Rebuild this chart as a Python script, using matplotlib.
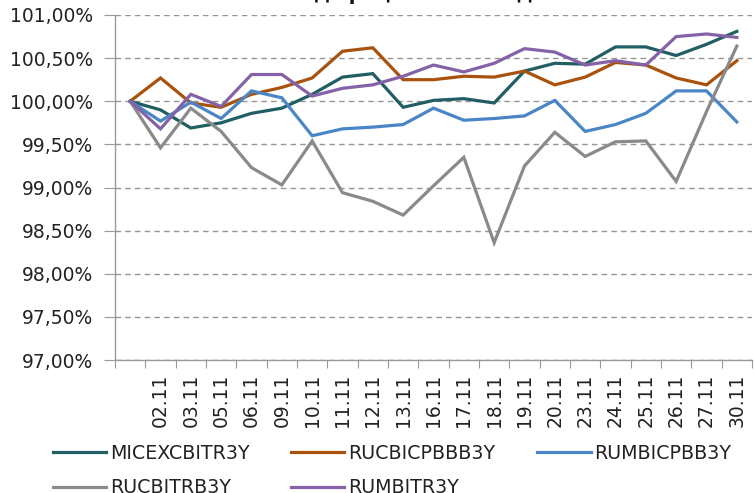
import matplotlib
matplotlib.use("Agg")
import matplotlib.pyplot as plt
from matplotlib.ticker import FuncFormatter, FixedLocator

plt.rcParams['font.family'] = ['DejaVu Sans']

title = "дюрацией 2 - 3 года"
dates = ["", "02.11", "03.11", "05.11", "06.11", "09.11", "10.11", "11.11", "12.11",
         "13.11", "16.11", "17.11", "18.11", "19.11", "20.11", "23.11", "24.11",
         "25.11", "26.11", "27.11", "30.11"]

micex = [100.00, 99.90, 99.69, 99.75, 99.86, 99.92, 100.08, 100.28, 100.32, 99.93, 100.01,
         100.03, 99.98, 100.35, 100.44, 100.43, 100.63, 100.63, 100.53, 100.66, 100.81]
rucbicp = [100.00, 100.27, 99.98, 99.93, 100.08, 100.16, 100.27, 100.58, 100.62, 100.25, 100.25,
           100.29, 100.28, 100.35, 100.19, 100.28, 100.45, 100.42, 100.27, 100.19, 100.47]
rumbicp = [100.00, 99.77, 99.99, 99.80, 100.12, 100.04, 99.60, 99.68, 99.70, 99.73, 99.92,
           99.78, 99.80, 99.83, 100.01, 99.65, 99.73, 99.86, 100.12, 100.12, 99.76]
rucbitrb = [100.00, 99.46, 99.92, 99.65, 99.23, 99.03, 99.54, 98.94, 98.84, 98.68, 99.02,
            99.35, 98.36, 99.25, 99.64, 99.36, 99.53, 99.54, 99.07, 99.88, 100.64]
rumbitr = [100.00, 99.68, 100.08, 99.94, 100.31, 100.31, 100.06, 100.15, 100.19, 100.29, 100.42,
           100.34, 100.44, 100.61, 100.57, 100.42, 100.47, 100.42, 100.75, 100.78, 100.74]

series = [
    ("MICEXCBITR3Y", micex, "#215E63"),
    ("RUCBICPBBB3Y", rucbicp, "#A9520E"),
    ("RUMBICPBB3Y", rumbicp, "#4A86C6"),
    ("RUCBITRB3Y", rucbitrb, "#8A8A8A"),
    ("RUMBITR3Y", rumbitr, "#8562A8"),
]
yticks = [97.0, 97.5, 98.0, 98.5, 99.0, 99.5, 100.0, 100.5, 101.0]

fig = plt.figure(figsize=(7.54, 4.93), dpi=100)
ax = fig.add_axes([115 / 754, 1 - 360 / 493, (752 - 115) / 754, (360 - 15) / 493])

x = list(range(len(dates)))
handles = {}
for name, vals, col in series:
    h, = ax.plot(x, vals, color=col, lw=2.3, solid_joinstyle='miter', label=name, zorder=3)
    handles[name] = h

ax.set_xlim(-0.5, len(dates) - 0.5)
ax.set_ylim(97.0, 101.0)
ax.yaxis.set_major_locator(FixedLocator(yticks))
ax.yaxis.set_major_formatter(FuncFormatter(lambda v, p: f"{v:.2f}".replace(".", ",") + "%"))
ax.grid(axis='y', color='#959595', ls=(0, (4, 3)), lw=1.0)
ax.set_axisbelow(True)

ax.xaxis.set_major_locator(FixedLocator([i - 0.5 for i in range(len(dates) + 1)]))
ax.xaxis.set_major_formatter(FuncFormatter(lambda v, p: ""))
ax.xaxis.set_minor_locator(FixedLocator(x))
ax.set_xticklabels(dates, minor=True, rotation=90, fontsize=13.5, color='#222222')
ax.tick_params(axis='x', which='major', length=6, color='#9A9A9A', direction='out')
ax.tick_params(axis='x', which='minor', length=0, pad=10)
ax.tick_params(axis='y', length=8, color='#9A9A9A', labelsize=13.5, labelcolor='#222222', pad=8)

for s in ['top', 'right']:
    ax.spines[s].set_visible(False)
for s in ['left', 'bottom']:
    ax.spines[s].set_color('#9A9A9A')
    ax.spines[s].set_linewidth(1.0)

order = ["MICEXCBITR3Y", "RUCBITRB3Y", "RUCBICPBBB3Y", "RUMBITR3Y", "RUMBICPBB3Y"]
leg = fig.legend([handles[n] for n in order], order, ncol=3, loc='lower left',
                 bbox_to_anchor=(45 / 754, -0.024), frameon=False, fontsize=13.7,
                 handlelength=2.8, handletextpad=0.2, columnspacing=2.2, labelspacing=0.8,
                 borderaxespad=0.0)
for t in leg.get_texts():
    t.set_color('#222222')

fig.text(430 / 754, 1 - 0.5 / 493, title, ha='center', va='baseline',
         fontsize=14, fontweight='bold', color='#111111')

fig.savefig("out.png", dpi=100)
